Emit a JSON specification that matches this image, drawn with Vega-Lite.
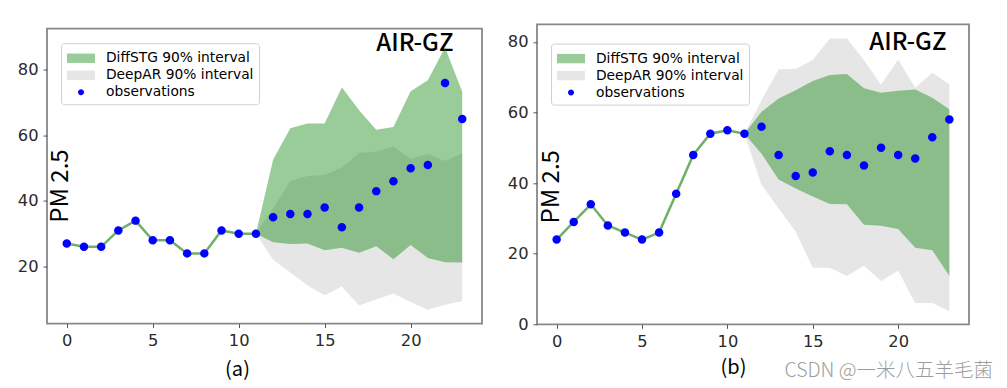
{
  "$schema": "https://vega.github.io/schema/vega-lite/v6.json",
  "background": "white",
  "padding": {"left": 16, "top": 23, "right": 0, "bottom": 8},
  "spacing": 23,
  "center": true,
  "title": {"text": "CSDN @一米八五羊毛菌", "orient": "bottom", "anchor": "end", "frame": "bounds", "offset": -14, "dx": 23, "baseline": "middle", "font": "Noto Sans CJK SC", "fontSize": 19.5, "fontWeight": 300, "color": "#9d9d9d"},
  "config": {
    "view": {"stroke": "#888888", "strokeWidth": 1.8},
    "axis": {"domain": false, "grid": false, "tickSize": 4, "tickColor": "#555555", "tickWidth": 1, "labelFont": "DejaVu Sans", "labelFontSize": 16.3, "labelColor": "#2b2b2b", "labelPadding": 5, "titleFont": "Noto Sans CJK SC", "titleColor": "black", "titleFontWeight": "normal"},
    "legend": {"orient": "none", "padding": 5, "symbolSize": 400, "symbolOffset": 5, "labelFont": "DejaVu Sans", "labelFontSize": 13.8, "labelColor": "black", "labelOffset": 15, "rowPadding": 0, "strokeColor": "#d0d0d0", "cornerRadius": 3, "fillColor": "white", "labelLimit": 300, "symbolStrokeWidth": 0}
  },
  "resolve": {"scale": {"color": "independent", "shape": "independent"}, "legend": {"color": "independent", "shape": "independent"}},
  "datasets": {
    "obsA": [
      {"t": 0, "v": 27}, {"t": 1, "v": 26}, {"t": 2, "v": 26}, {"t": 3, "v": 31}, {"t": 4, "v": 34}, {"t": 5, "v": 28},
      {"t": 6, "v": 28}, {"t": 7, "v": 24}, {"t": 8, "v": 24}, {"t": 9, "v": 31}, {"t": 10, "v": 30}, {"t": 11, "v": 30},
      {"t": 12, "v": 35}, {"t": 13, "v": 36}, {"t": 14, "v": 36}, {"t": 15, "v": 38}, {"t": 16, "v": 32}, {"t": 17, "v": 38},
      {"t": 18, "v": 43}, {"t": 19, "v": 46}, {"t": 20, "v": 50}, {"t": 21, "v": 51}, {"t": 22, "v": 76}, {"t": 23, "v": 65}
    ],
    "diffA": [
      {"t": 11, "lo": 30, "hi": 30}, {"t": 12, "lo": 27.4, "hi": 52.6}, {"t": 13, "lo": 26.9, "hi": 62.2}, {"t": 14, "lo": 27.0, "hi": 63.6},
      {"t": 15, "lo": 25.0, "hi": 63.6}, {"t": 16, "lo": 25.7, "hi": 74.7}, {"t": 17, "lo": 24.2, "hi": 67.7}, {"t": 18, "lo": 26.2, "hi": 61.7},
      {"t": 19, "lo": 22.2, "hi": 62.6}, {"t": 20, "lo": 26.6, "hi": 73.5}, {"t": 21, "lo": 22.6, "hi": 76.8}, {"t": 22, "lo": 21.3, "hi": 86.8},
      {"t": 23, "lo": 21.2, "hi": 73.3}
    ],
    "deepA": [
      {"t": 11, "lo": 30, "hi": 30}, {"t": 12, "lo": 22.1, "hi": 37.8}, {"t": 13, "lo": 18.2, "hi": 46.0}, {"t": 14, "lo": 14.2, "hi": 47.6},
      {"t": 15, "lo": 11.2, "hi": 47.9}, {"t": 16, "lo": 13.9, "hi": 50.2}, {"t": 17, "lo": 8.1, "hi": 54.6}, {"t": 18, "lo": 9.9, "hi": 55.1},
      {"t": 19, "lo": 11.8, "hi": 56.6}, {"t": 20, "lo": 9.2, "hi": 52.8}, {"t": 21, "lo": 6.8, "hi": 54.4}, {"t": 22, "lo": 8.3, "hi": 52.2},
      {"t": 23, "lo": 9.5, "hi": 54.6}
    ],
    "obsB": [
      {"t": 0, "v": 24}, {"t": 1, "v": 29}, {"t": 2, "v": 34}, {"t": 3, "v": 28}, {"t": 4, "v": 26}, {"t": 5, "v": 24},
      {"t": 6, "v": 26}, {"t": 7, "v": 37}, {"t": 8, "v": 48}, {"t": 9, "v": 54}, {"t": 10, "v": 55}, {"t": 11, "v": 54},
      {"t": 12, "v": 56}, {"t": 13, "v": 48}, {"t": 14, "v": 42}, {"t": 15, "v": 43}, {"t": 16, "v": 49}, {"t": 17, "v": 48},
      {"t": 18, "v": 45}, {"t": 19, "v": 50}, {"t": 20, "v": 48}, {"t": 21, "v": 47}, {"t": 22, "v": 53}, {"t": 23, "v": 58}
    ],
    "diffB": [
      {"t": 11, "lo": 54, "hi": 54}, {"t": 12, "lo": 48.3, "hi": 60.2}, {"t": 13, "lo": 41.0, "hi": 64.0}, {"t": 14, "lo": 38.5, "hi": 66.3},
      {"t": 15, "lo": 36.2, "hi": 68.9}, {"t": 16, "lo": 34.1, "hi": 70.6}, {"t": 17, "lo": 34.0, "hi": 70.9}, {"t": 18, "lo": 28.2, "hi": 66.9},
      {"t": 19, "lo": 27.9, "hi": 65.6}, {"t": 20, "lo": 27.0, "hi": 66.2}, {"t": 21, "lo": 21.7, "hi": 66.5}, {"t": 22, "lo": 21.0, "hi": 64.2},
      {"t": 23, "lo": 13.7, "hi": 60.9}
    ],
    "deepB": [
      {"t": 11, "lo": 54, "hi": 54}, {"t": 12, "lo": 39.5, "hi": 63.5}, {"t": 13, "lo": 32.8, "hi": 72.2}, {"t": 14, "lo": 26.2, "hi": 72.4},
      {"t": 15, "lo": 16.0, "hi": 74.9}, {"t": 16, "lo": 16.0, "hi": 81.0}, {"t": 17, "lo": 13.7, "hi": 81.0}, {"t": 18, "lo": 16.6, "hi": 74.8},
      {"t": 19, "lo": 12.3, "hi": 67.9}, {"t": 20, "lo": 15.2, "hi": 75.0}, {"t": 21, "lo": 6.0, "hi": 67.0}, {"t": 22, "lo": 6.0, "hi": 71.3},
      {"t": 23, "lo": 3.7, "hi": 68.0}
    ]
  },
  "hconcat": [
    {
      "width": 435,
      "height": 295,
      "resolve": {"axis": {"x": "independent"}},
      "layer": [
        {
          "data": {"name": "deepA"},
          "mark": {"type": "area"},
          "encoding": {
            "x": {"field": "t", "type": "quantitative", "scale": {"domain": [-1.15, 24.15], "nice": false, "zero": false},
                  "axis": {"values": [0, 5, 10, 15, 20], "title": "(a)", "titleX": 190, "titleY": 46, "titleBaseline": "middle", "titleAlign": "center", "titleFontSize": 20, "labelFlush": false}},
            "y": {"field": "lo", "type": "quantitative", "scale": {"domain": [2.6, 92.6], "nice": false, "zero": false},
                  "axis": {"values": [20, 40, 60, 80], "title": "PM 2.5", "titleX": 20, "titleY": 157, "titleAngle": -90, "titleAlign": "center", "titleBaseline": "alphabetic", "titleFontSize": 24}},
            "y2": {"field": "hi"},
            "color": {"datum": "DeepAR 90% interval", "type": "nominal",
                      "scale": {"domain": ["DiffSTG 90% interval", "DeepAR 90% interval", "observations"], "range": ["rgba(0,128,0,0.4)", "rgba(128,128,128,0.2)", "#0000ff"]},
                      "legend": {"title": null, "legendX": 14, "legendY": 14.7}}
          }
        },
        {
          "data": {"name": "diffA"},
          "mark": {"type": "area"},
          "encoding": {
            "x": {"field": "t", "type": "quantitative",
                  "axis": {"orient": "top", "values": [0, 5, 10, 15, 20], "labels": false, "ticks": false, "tickSize": 0,
                           "title": "AIR-GZ", "titleX": 406, "titleY": 22, "titleAlign": "right", "titleBaseline": "alphabetic", "titleFontSize": 24, "titleFontWeight": 500}},
            "y": {"field": "lo", "type": "quantitative"},
            "y2": {"field": "hi"},
            "color": {"datum": "DiffSTG 90% interval", "type": "nominal"}
          }
        },
        {
          "data": {"name": "obsA"},
          "transform": [{"filter": "datum.t <= 11"}],
          "mark": {"type": "line", "color": "#70ae69", "strokeWidth": 2.5},
          "encoding": {
            "x": {"field": "t", "type": "quantitative", "axis": null},
            "y": {"field": "v", "type": "quantitative"}
          }
        },
        {
          "data": {"name": "obsA"},
          "mark": {"type": "point", "filled": true, "opacity": 1, "size": 800},
          "encoding": {
            "x": {"field": "t", "type": "quantitative", "axis": null},
            "y": {"field": "v", "type": "quantitative"},
            "color": {"datum": "observations", "type": "nominal"},
            "shape": {"datum": "observations", "type": "nominal",
                      "scale": {"domain": ["DiffSTG 90% interval", "DeepAR 90% interval", "observations"], "range": ["M-1.4,-0.47L1.4,-0.47L1.4,0.47L-1.4,0.47Z", "M-1.4,-0.47L1.4,-0.47L1.4,0.47L-1.4,0.47Z", "M0.3,0A0.3,0.3,0,1,1,-0.3,0A0.3,0.3,0,1,1,0.3,0Z"]},
                      "legend": {"title": null, "legendX": 14, "legendY": 14.7}}
          }
        }
      ]
    },
    {
      "width": 432,
      "height": 300,
      "resolve": {"axis": {"x": "independent"}},
      "layer": [
        {
          "data": {"name": "deepB"},
          "mark": {"type": "area"},
          "encoding": {
            "x": {"field": "t", "type": "quantitative", "scale": {"domain": [-1.15, 24.15], "nice": false, "zero": false},
                  "axis": {"values": [0, 5, 10, 15, 20], "title": "(b)", "titleX": 196, "titleY": 43.5, "titleBaseline": "middle", "titleAlign": "center", "titleFontSize": 20, "labelFlush": false}},
            "y": {"field": "lo", "type": "quantitative", "scale": {"domain": [0, 85], "nice": false, "zero": false},
                  "axis": {"values": [0, 20, 40, 60, 80], "title": "PM 2.5", "titleX": 21, "titleY": 162, "titleAngle": -90, "titleAlign": "center", "titleBaseline": "alphabetic", "titleFontSize": 24}},
            "y2": {"field": "hi"},
            "color": {"datum": "DeepAR 90% interval", "type": "nominal",
                      "scale": {"domain": ["DiffSTG 90% interval", "DeepAR 90% interval", "observations"], "range": ["rgba(0,128,0,0.4)", "rgba(128,128,128,0.2)", "#0000ff"]},
                      "legend": {"title": null, "legendX": 14, "legendY": 19.3}}
          }
        },
        {
          "data": {"name": "diffB"},
          "mark": {"type": "area"},
          "encoding": {
            "x": {"field": "t", "type": "quantitative",
                  "axis": {"orient": "top", "values": [0, 5, 10, 15, 20], "labels": false, "ticks": false, "tickSize": 0,
                           "title": "AIR-GZ", "titleX": 409, "titleY": 25, "titleAlign": "right", "titleBaseline": "alphabetic", "titleFontSize": 24, "titleFontWeight": 500}},
            "y": {"field": "lo", "type": "quantitative"},
            "y2": {"field": "hi"},
            "color": {"datum": "DiffSTG 90% interval", "type": "nominal"}
          }
        },
        {
          "data": {"name": "obsB"},
          "transform": [{"filter": "datum.t <= 11"}],
          "mark": {"type": "line", "color": "#70ae69", "strokeWidth": 2.5},
          "encoding": {
            "x": {"field": "t", "type": "quantitative",
                  "axis": {"orient": "bottom", "values": [0], "labels": false, "ticks": true, "tickColor": "transparent", "tickSize": 59, "title": null}},
            "y": {"field": "v", "type": "quantitative"}
          }
        },
        {
          "data": {"name": "obsB"},
          "mark": {"type": "point", "filled": true, "opacity": 1, "size": 800},
          "encoding": {
            "x": {"field": "t", "type": "quantitative", "axis": null},
            "y": {"field": "v", "type": "quantitative"},
            "color": {"datum": "observations", "type": "nominal"},
            "shape": {"datum": "observations", "type": "nominal",
                      "scale": {"domain": ["DiffSTG 90% interval", "DeepAR 90% interval", "observations"], "range": ["M-1.4,-0.47L1.4,-0.47L1.4,0.47L-1.4,0.47Z", "M-1.4,-0.47L1.4,-0.47L1.4,0.47L-1.4,0.47Z", "M0.3,0A0.3,0.3,0,1,1,-0.3,0A0.3,0.3,0,1,1,0.3,0Z"]},
                      "legend": {"title": null, "legendX": 14, "legendY": 19.3}}
          }
        }
      ]
    }
  ]
}
